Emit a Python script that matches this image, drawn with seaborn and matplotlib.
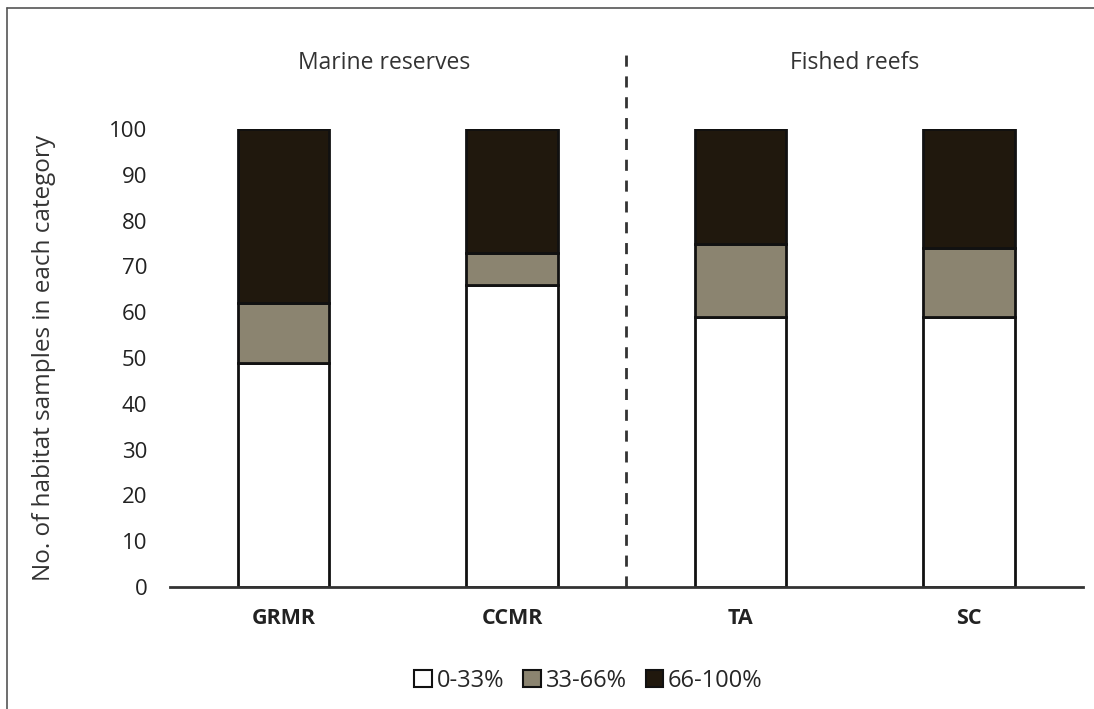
import pandas as pd
import numpy as np
import matplotlib
matplotlib.use("Agg")
import matplotlib.pyplot as plt
import seaborn as sns
from matplotlib.patches import Patch
from matplotlib.lines import Line2D

sites = ["GRMR", "CCMR", "TA", "SC"]
low = [49, 66, 59, 59]        # 0-33%
mid = [13, 7, 16, 15]         # 33-66%
high = [38, 27, 25, 26]       # 66-100%
groups = ["Marine reserves", "Fished reefs"]
legend_labels = ["0-33%", "33-66%", "66-100%"]
colors = ["#ffffff", "#8b8470", "#20180d"]

sns.set_theme(style="white")
plt.rcParams["font.family"] = ["Open Sans", "DejaVu Sans"]

df = pd.DataFrame({"site": sites, "low": low, "mid": mid, "high": high})
df["b_mid"] = df["low"]
df["b_high"] = df["low"] + df["mid"]

fig = plt.figure(figsize=(10.94, 7.09), dpi=100)
ax = fig.add_axes([0.155, 0.172, 0.835, 0.646])

sns.barplot(data=df, x="site", y="low", color=colors[0], width=0.4,
            edgecolor="#111111", linewidth=2, saturation=1, ax=ax)
sns.barplot(data=df, x="site", y="mid", bottom=df["b_mid"], color=colors[1], width=0.4,
            edgecolor="#111111", linewidth=2, saturation=1, ax=ax)
sns.barplot(data=df, x="site", y="high", bottom=df["b_high"], color=colors[2], width=0.4,
            edgecolor="#111111", linewidth=2, saturation=1, ax=ax)

ax.set_xlim(-0.5, 3.5)
ax.set_ylim(0, 100)
ax.set_yticks(range(0, 101, 10))
ax.tick_params(axis="y", labelsize=16, length=0, pad=16, colors="#222222")
ax.tick_params(axis="x", labelsize=15.5, length=0, pad=15)
for t in ax.get_xticklabels():
    t.set_fontweight("bold")
    t.set_color("#222222")
ax.set_xlabel("")
ax.set_ylabel("No. of habitat samples in each category", fontsize=17.5, color="#333333", labelpad=38)
for s in ["top", "right", "left"]:
    ax.spines[s].set_visible(False)
ax.spines["bottom"].set_color("#333333")
ax.spines["bottom"].set_linewidth(2)

# divider between reserves and fished reefs
ax.plot([1.5, 1.5], [0, 118], ls=(0, (4, 3.5)), color="#333333", lw=2, clip_on=False)
ax.text(0.44, 114.5, groups[0], ha="center", va="center", fontsize=16.5, color="#333333")
ax.text(2.5, 114.5, groups[1], ha="center", va="center", fontsize=16.5, color="#333333")

handles = [Patch(facecolor=c, edgecolor="#111111", linewidth=1.5) for c in colors]
fig.legend(handles, legend_labels, loc="center", bbox_to_anchor=(0.538, 0.04), ncol=3,
           frameon=False, fontsize=17, handlelength=0.75, handleheight=0.75,
           handletextpad=0.2, columnspacing=0.8)

# outer frame (left and top edges only)
fig.add_artist(Line2D([0.0065, 0.0065], [0, 0.989], color="#555555", lw=1.2))
fig.add_artist(Line2D([0.0065, 1.0], [0.989, 0.989], color="#555555", lw=1.2))

plt.savefig("out.png", dpi=100)
plt.close()
